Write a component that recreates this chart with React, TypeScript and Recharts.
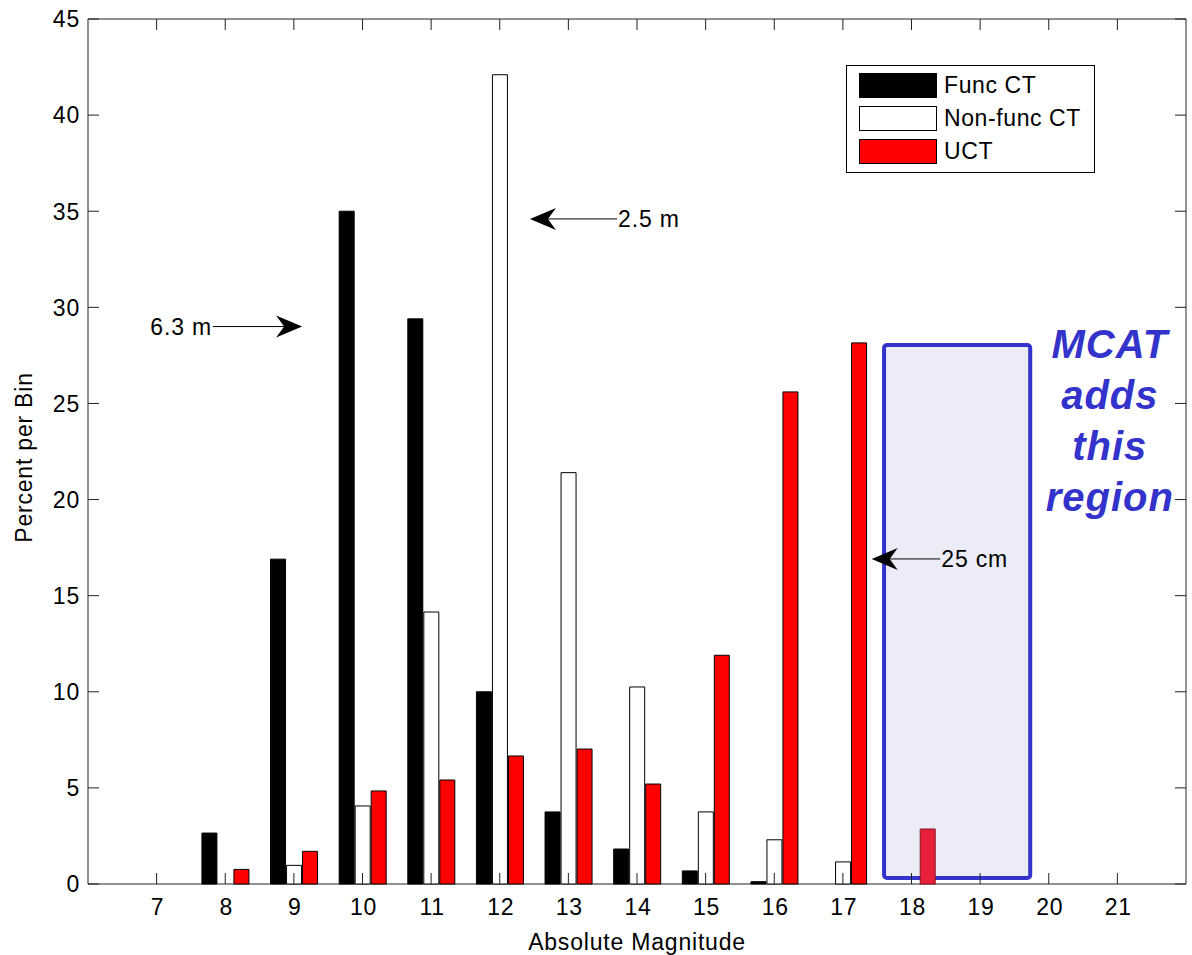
import React from 'react'
import {
  Bar,
  BarChart,
  Cell,
  Legend,
  ReferenceArea,
  ReferenceDot,
  ReferenceLine,
  XAxis,
  YAxis,
} from 'recharts'

// histogram bins (absolute magnitude) and percent per bin for each population
const MAGS = [7, 8, 9, 10, 11, 12, 13, 14, 15, 16, 17, 18, 19, 20, 21]
const FUNC_CT = [0, 2.65, 16.9, 35.0, 29.4, 10.0, 3.75, 1.82, 0.68, 0.12, 0, 0, 0, 0, 0]
const NON_FUNC_CT = [0, 0, 0.97, 4.06, 14.15, 42.1, 21.4, 10.25, 3.75, 2.3, 1.15, 0, 0, 0, 0]
const UCT = [0, 0.76, 1.7, 4.84, 5.41, 6.66, 7.02, 5.2, 11.9, 25.6, 28.15, 2.86, 0, 0, 0]
const Y_TICKS = [0, 5, 10, 15, 20, 25, 30, 35, 40, 45]

// size annotations: arrow from the label towards a bin
const ARROWS = [
  { text: '6.3 m', from: [7.82, 29], to: [9.12, 29] },
  { text: '2.5 m', from: [13.71, 34.6], to: [12.44, 34.6] },
  { text: '25 cm', from: [18.42, 16.91], to: [17.42, 16.91] },
]

// highlighted region added by the new survey
const MCAT_BOX = { x1: 17.6, x2: 19.73, y1: 0.31, y2: 28.04 }
const MCAT_TEXT = ['MCAT', 'adds', 'this', 'region']
const MCAT_POS = { x: 20.89, y: 27.37 }

const SERIES = [
  { key: 'func', name: 'Func CT', color: '#000000' },
  { key: 'nonFunc', name: 'Non-func CT', color: '#ffffff' },
  { key: 'uct', name: 'UCT', color: '#ff0000' },
]

const data = MAGS.map((mag, i) => ({
  mag,
  func: FUNC_CT[i],
  nonFunc: NON_FUNC_CT[i],
  uct: UCT[i],
}))

const FONT = '"Liberation Sans", Arial, Helvetica, sans-serif'
const PLOT = { left: 88, right: 1186, top: 19, bottom: 884 }
const TICK_LEN = 11
const AXIS_COLOR = '#222'

const textStyle = {
  fontFamily: FONT,
  fontSize: 23,
  letterSpacing: 0.8,
  fill: '#000',
}

function XTick(props: any) {
  const { x, payload } = props
  return (
    <g>
      <line x1={x} x2={x} y1={PLOT.bottom} y2={PLOT.bottom - TICK_LEN} stroke={AXIS_COLOR} />
      <line x1={x} x2={x} y1={PLOT.top} y2={PLOT.top + TICK_LEN} stroke={AXIS_COLOR} />
      <text x={x + 1} y={PLOT.bottom + 31} textAnchor="middle" style={textStyle}>
        {payload.value}
      </text>
    </g>
  )
}

function YTick(props: any) {
  const { y, payload } = props
  return (
    <g>
      <line x1={PLOT.left} x2={PLOT.left + TICK_LEN} y1={y} y2={y} stroke={AXIS_COLOR} />
      <line x1={PLOT.right} x2={PLOT.right - TICK_LEN} y1={y} y2={y} stroke={AXIS_COLOR} />
      <text x={PLOT.left - 8} y={y} dy="0.36em" textAnchor="end" style={textStyle}>
        {payload.value}
      </text>
    </g>
  )
}

function arrowShape(text: string) {
  return (props: any) => {
    const { x1, y1, x2, y2 } = props
    const len = Math.hypot(x2 - x1, y2 - y1) || 1
    const dx = (x2 - x1) / len
    const dy = (y2 - y1) / len
    const nx = -dy
    const ny = dx
    const L = 26
    const W = 11
    const notch = 8
    const head = [
      [x2, y2],
      [x2 - L * dx + W * nx, y2 - L * dy + W * ny],
      [x2 - (L - notch) * dx, y2 - (L - notch) * dy],
      [x2 - L * dx - W * nx, y2 - L * dy - W * ny],
    ]
    const toRight = x2 > x1
    return (
      <g>
        <line
          x1={x1}
          y1={y1}
          x2={x2 - (L - notch) * dx}
          y2={y2 - (L - notch) * dy}
          stroke="#000"
          strokeWidth={1}
        />
        <polygon points={head.map((p) => p.join(',')).join(' ')} fill="#000" />
        <text
          x={toRight ? x1 - 1 : x1 + 1}
          y={y1}
          dy="0.36em"
          textAnchor={toRight ? 'end' : 'start'}
          style={textStyle}
        >
          {text}
        </text>
      </g>
    )
  }
}

function renderLegend() {
  return (
    <div
      style={{
        boxSizing: 'border-box',
        width: 249,
        height: 108,
        border: '1px solid #000',
        background: '#fff',
        position: 'relative',
        fontFamily: FONT,
        fontSize: 23,
        letterSpacing: 0.6,
      }}
    >
      {SERIES.map((s, i) => (
        <div
          key={s.key}
          style={{
            position: 'absolute',
            left: 12,
            top: 7 + i * 33,
            height: 25,
            display: 'flex',
            alignItems: 'center',
          }}
        >
          <div
            style={{
              boxSizing: 'border-box',
              width: 78,
              height: 25,
              background: s.color,
              border: '1px solid #000',
            }}
          />
          <span style={{ marginLeft: 7, lineHeight: '25px' }}>{s.name}</span>
        </div>
      ))}
    </div>
  )
}

export default function App() {
  return (
    <div style={{ position: 'absolute', left: 0, top: 0, width: 1192, height: 955, overflow: 'hidden' }}>
      <BarChart
        width={1192}
        height={955}
        data={data}
        margin={{ top: 19, right: 6, left: 8, bottom: 0 }}
        barGap={1}
      >
        <XAxis
          dataKey="mag"
          type="category"
          interval={0}
          height={71}
          padding={{ left: 34.3, right: 34.3 }}
          tickLine={false}
          axisLine={false}
          tick={XTick}
          label={(p: any) => (
            <text
              x={p.viewBox.x + p.viewBox.width / 2}
              y={p.viewBox.y + 66}
              textAnchor="middle"
              style={textStyle}
            >
              Absolute Magnitude
            </text>
          )}
        />
        <XAxis xAxisId="num" type="number" dataKey="mag" domain={[6, 22]} allowDataOverflow hide />
        <YAxis
          type="number"
          domain={[0, 45]}
          ticks={Y_TICKS}
          width={80}
          tickLine={false}
          axisLine={false}
          tick={YTick}
          label={(p: any) => {
            const cx = p.viewBox.x + 24
            const cy = p.viewBox.y + p.viewBox.height / 2 + 6
            return (
              <text
                x={cx}
                y={cy}
                transform={`rotate(-90, ${cx}, ${cy})`}
                textAnchor="middle"
                style={textStyle}
              >
                Percent per Bin
              </text>
            )
          }}
        />

        <ReferenceArea
          xAxisId="num"
          x1={MCAT_BOX.x1}
          x2={MCAT_BOX.x2}
          y1={MCAT_BOX.y1}
          y2={MCAT_BOX.y2}
          shape={(p: any) => (
            <rect
              x={p.x}
              y={p.y}
              width={p.width}
              height={p.height}
              rx={3}
              fill="#ececf8"
              stroke="#3333cc"
              strokeWidth={4}
            />
          )}
        />
        <ReferenceArea
          xAxisId="num"
          x1={6}
          x2={22}
          y1={0}
          y2={45}
          fill="none"
          fillOpacity={0}
          stroke={AXIS_COLOR}
          strokeWidth={1}
        />

        <Bar dataKey="func" name="Func CT" fill="#000" stroke="#000" barSize={15} isAnimationActive={false} />
        <Bar dataKey="nonFunc" name="Non-func CT" fill="#fff" stroke="#000" barSize={15} isAnimationActive={false} />
        <Bar dataKey="uct" name="UCT" fill="#ff0000" stroke="#000" barSize={15} isAnimationActive={false}>
          {data.map((d, i) => (
            <Cell
              key={`uct-${i}`}
              fill={d.mag >= 18 ? '#e8203a' : '#ff0000'}
              stroke={d.mag >= 18 ? '#8a1020' : '#000'}
            />
          ))}
        </Bar>

        {ARROWS.map((a) => (
          <ReferenceLine
            key={a.text}
            xAxisId="num"
            segment={[
              { x: a.from[0], y: a.from[1] },
              { x: a.to[0], y: a.to[1] },
            ]}
            shape={arrowShape(a.text)}
          />
        ))}

        <ReferenceDot
          xAxisId="num"
          x={MCAT_POS.x}
          y={MCAT_POS.y}
          r={1}
          shape={(p: any) => (
            <text
              x={p.cx}
              y={p.cy}
              textAnchor="middle"
              style={{
                fontFamily: FONT,
                fontSize: 40,
                fontWeight: 'bold',
                fontStyle: 'italic',
                letterSpacing: 1,
                fill: '#3333cc',
              }}
            >
              {MCAT_TEXT.map((line, i) => (
                <tspan key={line} x={p.cx} dy={i === 0 ? 0 : 51}>
                  {line}
                </tspan>
              ))}
            </text>
          )}
        />

        <Legend
          layout="horizontal"
          verticalAlign="middle"
          align="center"
          wrapperStyle={{ left: 846, top: 65, width: 249, height: 108 }}
          content={renderLegend}
        />
      </BarChart>
    </div>
  )
}
